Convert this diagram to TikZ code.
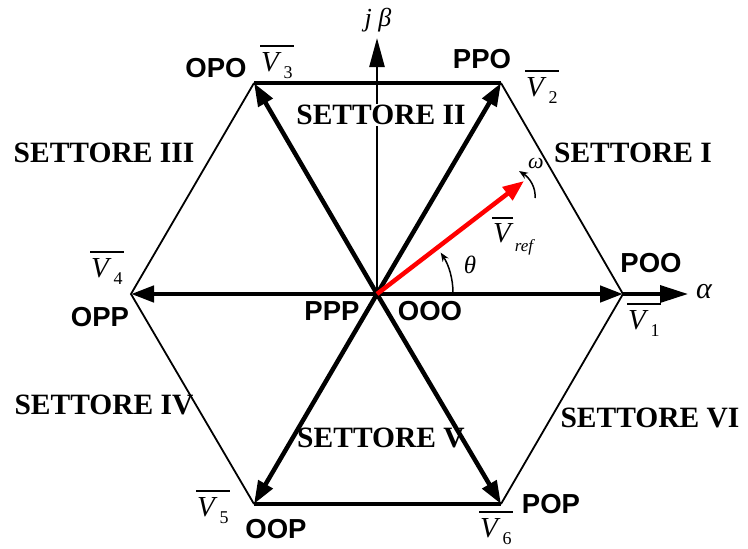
\documentclass[tikz,border=0pt]{standalone}
\usepackage{fontspec}
\setmainfont{Liberation Serif}
\setsansfont{Liberation Sans}
\usetikzlibrary{arrows.meta}
\newcommand{\Vlab}[4]{%
  \node[vl] (#1) at (#2,#3) {V};
  \node[vsub] (#1s) at (#2+18,#3+11) {#4};
  \draw[ovl] (#2-10,#3-16) -- (#2+24,#3-16);
}
\begin{document}
\begin{tikzpicture}[x=1pt,y=-1pt,
  hexthin/.style={line width=1.8pt, line join=miter},
  hexthick/.style={line width=3.2pt},
  vec/.style={line width=4.5pt, -{Triangle[length=23pt,width=16pt]}},
  refvec/.style={line width=4.5pt, red, -{Triangle[length=21pt,width=16pt]}},
  smallarr/.style={line width=1.5pt, -{Stealth[length=9pt,width=7pt]}},
  st/.style={font=\sffamily\bfseries\fontsize{27.5}{28}\selectfont, inner sep=0pt},
  sett/.style={font=\bfseries\fontsize{29.5}{30}\selectfont, inner sep=1pt},
  vl/.style={font=\itshape\fontsize{29}{29}\selectfont, inner sep=0pt},
  vsub/.style={font=\fontsize{18}{18}\selectfont, inner sep=0pt},
  ovl/.style={line width=1.7pt},
  greek/.style={font=\itshape\fontsize{#1}{#1}\selectfont, inner sep=0pt}
]
\useasboundingbox (0,0) rectangle (748,549);

% points
\coordinate (c) at (377,294);
\coordinate (v1) at (623,294);
\coordinate (v2) at (501,83);
\coordinate (v3) at (254,83);
\coordinate (v4) at (131,294);
\coordinate (v5) at (254,504);
\coordinate (v6) at (501,504);
\coordinate (atip) at (688,294);
\coordinate (btip) at (377,38);
\coordinate (rtip) at (524,181);

% hexagon
\draw[hexthin] (v3) -- (v4) -- (v5);
\draw[hexthin] (v2) -- (v1) -- (v6);
\draw[hexthick] (v3) -- (v2);
\draw[hexthick] (v5) -- (v6);

% axes
\draw[line width=3.5pt, -{Triangle[length=28pt,width=17pt]}] (v1) -- (atip);
\draw[line width=2.5pt, -{Triangle[length=29pt,width=15pt]}] (c) -- (btip);

% sector II label masks the beta axis
\node[sett, fill=white] (s2) at (381,115) {SETTORE II};

% vectors
\foreach \v in {v1,v2,v3,v4,v5,v6} \draw[vec] (c) -- (\v);

% reference vector
\draw[refvec] (c) -- (rtip);

% theta arc
\coordinate (th0) at (453,293);
\coordinate (th1) at (440.7,252.6);
\draw[smallarr] (th0) .. controls (453,278.3) and (448.7,264.9) .. (th1);
% omega arc
\coordinate (om0) at (535,198);
\coordinate (om1) at (519,171);
\draw[smallarr] (om0) .. controls (536,188) and (530,178) .. (om1);

% state labels
\node[st] (opo) at (216,68) {OPO};
\node[st] (ppo) at (482,59) {PPO};
\node[st] (poo) at (651,263) {POO};
\node[st] (opp) at (100,317) {OPP};
\node[st] (ppp) at (332,311) {PPP};
\node[st] (ooo) at (430,311) {OOO};
\node[st] (oop) at (276,529) {OOP};
\node[st] (pop) at (551,504) {POP};

% sectors
\node[sett] (s3) at (104,153) {SETTORE III};
\node[sett] (s1) at (633,153) {SETTORE I};
\node[sett] (s4) at (104,405) {SETTORE IV};
\node[sett] (s5) at (381,438) {SETTORE V};
\node[sett] (s6) at (650,418) {SETTORE VI};

% vector labels
\Vlab{lv1}{637}{320}{1}
\Vlab{lv2}{535}{87}{2}
\Vlab{lv3}{270}{62}{3}
\Vlab{lv4}{100}{268}{4}
\Vlab{lv5}{206}{507}{5}
\Vlab{lv6}{489}{528}{6}

% Vref label
\node[vl] (vref) at (502,233) {V};
\node[font=\itshape\fontsize{17}{17}\selectfont, inner sep=0pt] (vrefs) at (524,247) {ref};
\draw[ovl] (492,218) -- (513,218);

% greek labels
\node[greek=26] (jb) at (378,20) {j β};
\node[greek=30] (al) at (704,292) {α};
\node[greek=25] (th) at (470,265) {θ};
\node[greek=22] (om) at (536,163) {ω};
\end{tikzpicture}
\end{document}
